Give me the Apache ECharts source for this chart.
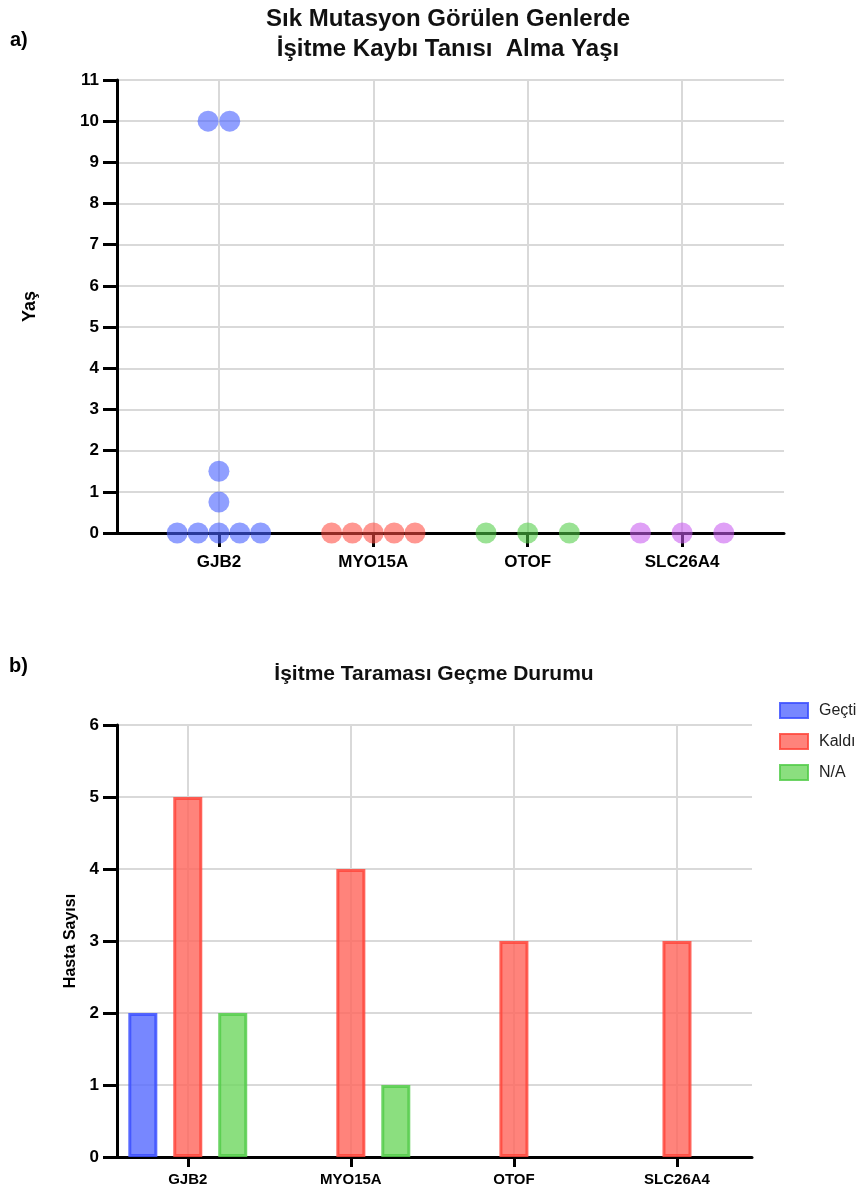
<!DOCTYPE html>
<html>
<head>
<meta charset="utf-8">
<script src="https://cdn.jsdelivr.net/npm/echarts@6/dist/echarts.min.js"></script>
<style>
  html, body { margin: 0; padding: 0; background: #fff; }
  #chart { width: 864px; height: 1193px; }
</style>
</head>
<body>
<div id="chart"></div>
<script>
// genes (both panels)
var genes = ['GJB2', 'MYO15A', 'OTOF', 'SLC26A4'];
var genePos = [1, 2, 3, 4];

// panel a: age at diagnosis, dot plot (x = gene index + jitter)
var gjb2X = [0.93, 1.07, 1, 1, 0.73, 0.865, 1, 1.135, 1.27];
var gjb2Y = [10, 10, 1.5, 0.75, 0, 0, 0, 0, 0];
var myo15aX = [1.73, 1.865, 2, 2.135, 2.27];
var myo15aY = [0, 0, 0, 0, 0];
var otofX = [2.73, 3, 3.27];
var otofY = [0, 0, 0];
var slc26a4X = [3.73, 4, 4.27];
var slc26a4Y = [0, 0, 0];

// panel b: hearing screening result
var gectiVals = [2, '-', '-', '-'];
var kaldiVals = [5, 4, 3, 3];
var naVals = [2, 1, '-', '-'];

function pairs(xs, ys) {
    return xs.map(function (x, i) { return [x, ys[i]]; });
}

var chart = echarts.init(document.getElementById('chart'));
var font = '"Liberation Sans", Arial, sans-serif';

function dotSeries(name, xs, ys, color) {
    return {
        type: 'scatter',
        name: name,
        xAxisIndex: 0,
        yAxisIndex: 0,
        symbolSize: 21,
        data: pairs(xs, ys),
        itemStyle: { color: color },
        z: 5
    };
}

function barSeries(name, vals, fill, border) {
    return {
        type: 'bar',
        name: name,
        xAxisIndex: 1,
        yAxisIndex: 1,
        barWidth: 29,
        barGap: '55%',
        data: pairs(genePos, vals),
        itemStyle: { color: fill, borderColor: border, borderWidth: 3 }
    };
}

function geneLabel(v) { return genes[Math.round(v) - 1]; }
var grey = { show: true, lineStyle: { color: '#d9d9d9', width: 2 } };
var blackLine = { show: true, lineStyle: { color: '#000', width: 3 } };

var option = {
    animation: false,
    textStyle: { fontFamily: font },
    graphic: [
        { type: 'text', left: 10, top: 30, style: { text: 'a)', font: 'bold 20px ' + font, fill: '#000' } },
        { type: 'text', x: 448, y: 4, style: { text: 'Sık Mutasyon Görülen Genlerde\nİşitme Kaybı Tanısı  Alma Yaşı', font: 'bold 24px ' + font, fill: '#111', align: 'center', lineHeight: 30 } },
        { type: 'text', left: 9, top: 656, style: { text: 'b)', font: 'bold 20px ' + font, fill: '#000' } },
        { type: 'text', x: 434, y: 664, style: { text: 'İşitme Taraması Geçme Durumu', font: 'bold 21px ' + font, fill: '#111', align: 'center' } }
    ],
    legend: {
        data: ['Geçti', 'Kaldı', 'N/A'],
        orient: 'vertical',
        icon: 'rect',
        left: 774,
        top: 697,
        itemWidth: 28,
        itemHeight: 15,
        itemGap: 14,
        textStyle: { fontSize: 16, color: '#222', fontFamily: font, padding: [0, 0, 0, 6] }
    },
    grid: [
        { left: 117, top: 80, width: 667, height: 453 },
        { left: 117, top: 725, width: 635, height: 432 }
    ],
    xAxis: [
        {
            gridIndex: 0,
            type: 'value',
            min: 0.34,
            max: 4.66,
            axisLine: blackLine,
            axisTick: { show: true, length: 14, lineStyle: { color: '#000', width: 3 }, customValues: genePos },
            axisLabel: { customValues: genePos, formatter: geneLabel, color: '#000', fontWeight: 'bold', fontSize: 17, margin: 21 },
            splitLine: grey
        },
        {
            gridIndex: 1,
            type: 'value',
            min: 0.566,
            max: 4.46,
            axisLine: blackLine,
            axisTick: { show: true, length: 10, lineStyle: { color: '#000', width: 3 }, customValues: genePos },
            axisLabel: { customValues: genePos, formatter: geneLabel, color: '#000', fontWeight: 'bold', fontSize: 15, margin: 15 },
            splitLine: grey
        }
    ],
    yAxis: [
        {
            gridIndex: 0,
            type: 'value',
            min: 0,
            max: 11,
            interval: 1,
            name: 'Yaş',
            nameLocation: 'middle',
            nameGap: 78,
            nameRotate: 90,
            nameTextStyle: { fontWeight: 'bold', fontSize: 18, color: '#000' },
            axisLine: blackLine,
            axisTick: { show: true, length: 14, lineStyle: { color: '#000', width: 3 } },
            axisLabel: { color: '#000', fontWeight: 'bold', fontSize: 17, margin: 18 },
            splitLine: grey
        },
        {
            gridIndex: 1,
            type: 'value',
            min: 0,
            max: 6,
            interval: 1,
            name: 'Hasta Sayısı',
            nameLocation: 'middle',
            nameGap: 38,
            nameRotate: 90,
            nameTextStyle: { fontWeight: 'bold', fontSize: 16, color: '#000' },
            axisLine: blackLine,
            axisTick: { show: true, length: 14, lineStyle: { color: '#000', width: 3 } },
            axisLabel: { color: '#000', fontWeight: 'bold', fontSize: 17, margin: 18 },
            splitLine: grey
        }
    ],
    series: [
        dotSeries('GJB2', gjb2X, gjb2Y, 'rgba(70,95,255,0.75)'),
        dotSeries('MYO15A', myo15aX, myo15aY, 'rgba(255,75,65,0.72)'),
        dotSeries('OTOF', otofX, otofY, 'rgba(80,205,70,0.72)'),
        dotSeries('SLC26A4', slc26a4X, slc26a4Y, 'rgba(200,90,240,0.72)'),
        barSeries('Geçti', gectiVals, 'rgba(85,105,255,0.8)', 'rgba(60,80,255,0.85)'),
        barSeries('Kaldı', kaldiVals, 'rgba(255,100,90,0.8)', 'rgba(255,70,60,0.85)'),
        barSeries('N/A', naVals, 'rgba(110,215,95,0.8)', 'rgba(85,205,75,0.85)')
    ]
};

chart.setOption(option);
</script>
</body>
</html>
